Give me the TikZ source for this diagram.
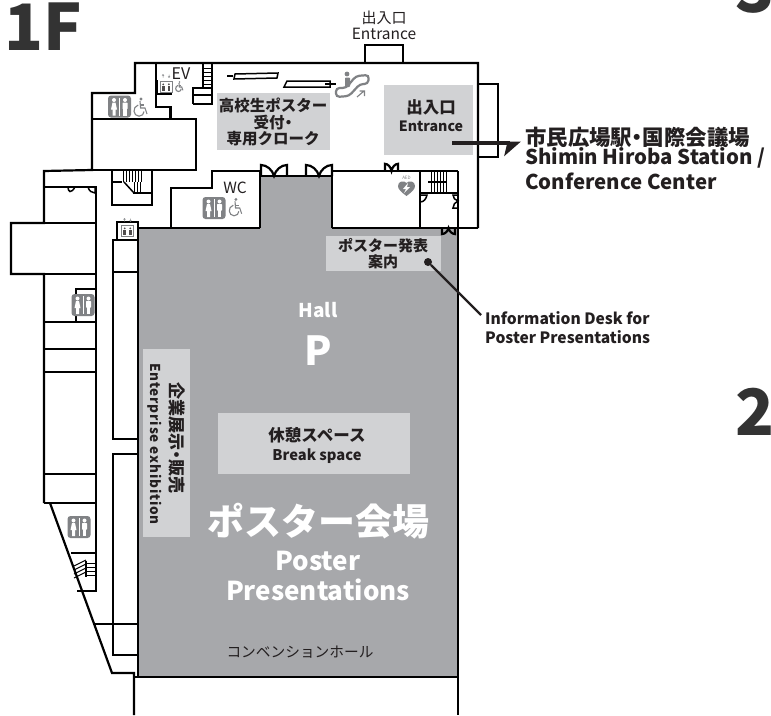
\documentclass[tikz,border=0pt]{standalone}
\usepackage{fontspec}
\usepackage{tikz}
\usetikzlibrary{
    arrows.meta,
    calc,
    positioning
}
\setmainfont{Noto Sans CJK JP}
\newfontfamily\blackfont{Noto Sans CJK JP Black}
\newcommand{\fs}[1]{\fontsize{#1}{#1}\selectfont}
\newcommand{\ndot}{\kern-.25em・\kern-.25em}
\definecolor{hallgray}{HTML}{A7A8AB}
\definecolor{labelgray}{HTML}{D1D2D4}
\definecolor{signgray}{HTML}{808285}
\definecolor{inkgray}{HTML}{231F20}
\definecolor{titlegray}{HTML}{333333}
\tikzset{
    wall/.style={line width=2.2pt},
    thinwall/.style={line width=1.5pt},
    labelbox/.style={fill=labelgray},
    maptext/.style={text=inkgray, align=center, inner sep=0pt},
    halltext/.style={text=white, align=center, inner sep=0pt, font=\bfseries},
    floortext/.style={text=titlegray, anchor=base west, inner sep=0pt, font=\blackfont\fs{64}},
    wcsign/.pic={
        \fill[signgray, rounded corners=3pt] (-11.5,-11) rectangle (11.5,11);
        \draw[white, line width=.7pt] (0,-9) -- (0,9);
        \fill[white] (-5.5,-6.5) circle (2);
        \fill[white] (-7,-4) -- (-4,-4) -- (-2.5,3) -- (-4,3) -- (-4,9) -- (-7,9) -- (-7,3) -- (-8.5,3) -- cycle;
        \fill[white] (5.5,-6.5) circle (2);
        \fill[white, rounded corners=.5pt] (3,-4) rectangle (8,2.5);
        \fill[white] (3.8,2) rectangle (7.2,9);
    },
    wheelsign/.pic={
        \fill[signgray] (1,-9) circle (1.6);
        \draw[signgray, line width=1.1pt] (0,-7) -- (.6,0) -- (5,0) -- (7,6);
        \draw[signgray, line width=1.1pt] (.5,-3) -- (4,-3);
        \draw[signgray, line width=1.1pt] (-1.8,-3) .. controls (-8,-1) and (-7,8) .. (-1,8.2) .. controls (2,8.2) and (4,6) .. (4,3.5);
    },
    liftsign/.pic={
        \draw[signgray, line width=.7pt] (-6,-5.5) rectangle (6,5.5);
        \foreach \px in {-2.8, 2.8} {
            \fill[inkgray!80] (\px,-2.7) circle (1);
            \fill[inkgray!80] (\px-1.3,-1.5) rectangle (\px+1.3,4);
        }
        \draw[signgray, line width=.5pt] (-3,-9.5) -- (-3,-12.5) (-4,-11.5) -- (-3,-12.5) -- (-2,-11.5);
        \draw[signgray, line width=.5pt] (3,-12.5) -- (3,-9.5) (2,-10.5) -- (3,-9.5) -- (4,-10.5);
    },
    doubledoor/.pic={
        \draw[wall] (0,0) -- (0,-11) .. controls (6,-11) and (11.5,-6) .. (13,0)
            .. controls (14.5,-6) and (20,-11) .. (26,-11) -- (26,0);
    }
}
\begin{document}
\begin{tikzpicture}[x=1pt, y=-1pt]
    \useasboundingbox (0, 0) rectangle (771, 715);
    \fill[white] (0, 0) rectangle (771, 715);

    % hall floor and grey label plates
    \fill[hallgray] (138, 228) -- (260, 228) -- (260, 176) -- (332, 176) -- (332, 228)
        -- (458, 228) -- (458, 677) -- (138, 677) -- cycle;
    \fill[labelbox] (217, 93) rectangle (330, 150);
    \fill[labelbox] (384, 85) rectangle (473, 155);
    \fill[labelbox] (326, 236) rectangle (441, 271);
    \fill[labelbox] (143, 349) rectangle (190, 537);
    \fill[labelbox] (218, 413) rectangle (410, 474);

    % outer walls
    \draw[wall, line join=miter]
        (478, 228) -- (478, 63) -- (135, 63) -- (135, 93) -- (92, 93) -- (92, 170)
        -- (44, 171) -- (44, 223) -- (11, 223) -- (11, 274) -- (44, 274) -- (44, 503)
        (50, 503) -- (112, 673) -- (134, 673) -- (134, 715);
    \draw[wall] (44, 503) -- (96, 503);
    \draw[wall] (134, 677) -- (458, 677) (458, 171) -- (458, 715);
    \draw[wall] (332, 228) -- (478, 228);

    % entrance porches
    \draw[wall] (365, 63) -- (365, 45) -- (403, 45) -- (403, 63);
    \draw[wall] (478, 84) -- (498, 84) -- (498, 157) -- (478, 157);

    % rooms along the north side
    \draw[wall] (92, 119) -- (196, 119) -- (196, 170) -- (92, 170);
    \draw[wall] (156, 63) -- (156, 107) -- (170.5, 107) -- (170.5, 119);
    \draw[wall] (193, 104) -- (193, 88) -- (212, 88) -- (212, 63);
    \draw[wall] (193, 104) -- (212, 104) -- (212, 88) (203, 63) -- (203, 88);
    \draw[thinwall] (193, 95) -- (212, 95);
    \foreach \ry in {68, 72, 76, 80, 84} {
        \draw[line width=1pt] (203, \ry) -- (212, \ry);
    }
    \draw[thinwall] (157, 80) -- (157, 94) -- (172, 94);

    % WC and rooms beside the hall
    \draw[wall] (171, 228) -- (171, 188) -- (212, 188) -- (212, 171) -- (260, 171) -- (260, 228);
    \draw[wall] (138, 228) -- (260, 228);
    \draw[wall] (260, 176) -- (332, 176) (332, 171) -- (332, 228);
    \draw[wall] (332, 171) -- (458, 171) (420, 171) -- (420, 228);
    \draw[wall] (420, 193) -- (458, 193);
    \draw[thinwall] (428, 182) -- (447, 182);
    \foreach \rx in {431, 434, 437, 440, 443, 446} {
        \draw[line width=1pt] (\rx, 171) -- (\rx, 193);
    }

    % stairs west of the hall
    \draw[wall] (112, 182) -- (112, 205) -- (152, 205) -- (152, 170);
    \draw[thinwall] (112, 170) -- (112, 182) -- (122, 182);
    \draw[thinwall] (133, 193) -- (152, 193);
    \foreach \rx in {123, 126, 129, 132, 135, 138, 141} {
        \draw[line width=1pt] (\rx, 171) -- (\rx, 182);
    }
    \foreach \rx in {134, 137, 140} {
        \draw[line width=1pt] (\rx, 182) -- (\rx, 193);
    }
    \draw[thinwall] (124, 182) -- (134, 193);

    % west wing
    \draw[wall] (44, 187) -- (96, 187) -- (96, 591) -- (77, 591);
    \draw[wall] (11, 223) -- (96, 223) (11, 274) -- (96, 274);
    \draw[wall] (44, 322) -- (96, 322) (44, 349) -- (96, 349) (44, 372) -- (96, 372) (44, 474) -- (96, 474);
    \draw[wall] (96, 289) -- (76, 289) -- (76, 322);
    \draw[thinwall] (71, 553) -- (96, 553);
    \foreach \ry in {563, 567, 571, 575} {
        \draw[line width=1pt] (86, \ry) -- (96, \ry);
        \draw[line width=1pt] (74, \ry+3) -- (86, \ry-3);
    }
    \draw[thinwall] (86, 561) -- (86, 577);

    % corridor cabins
    \draw[wall] (138, 240) -- (113, 240) -- (113, 439) -- (138, 439);
    \draw[wall] (113, 272) -- (138, 272);
    \draw[wall] (138, 454) -- (113, 454) -- (113, 655) -- (138, 655);
    \draw[wall] (113, 624) -- (138, 624);
    \draw[thinwall] (95, 624) -- (113, 624);
    \draw[wall] (117, 240) -- (117, 222) -- (138, 222) -- (138, 677);

    % doors
    \pic at (261, 176) {doubledoor};
    \pic at (306, 176) {doubledoor};
    \pic[xscale=.5, yscale=.65] at (385, 171) {doubledoor};
    \pic[xscale=.5, yscale=-.55] at (442, 228) {doubledoor};
    \draw[thinwall] (68, 187) .. controls (68, 192) and (71, 194) .. (75, 187);
    \draw[thinwall] (88, 187) .. controls (89, 191) and (92, 193) .. (95, 193) -- (95, 187);
    \draw[thinwall] (420, 202) .. controls (424, 202) and (426, 199) .. (427, 195) -- (420, 195);
    \draw[thinwall] (458, 195) -- (453, 195) .. controls (453, 198) and (455, 200) .. (458, 201)
        .. controls (455, 202) and (453, 205) .. (453, 208) -- (458, 208);

    % escalators and moving strips
    \draw[thinwall] (234, 79) -- (235, 74) -- (278, 73) -- (277, 78) -- cycle;
    \draw[wall] (227, 76) -- (233, 76);
    \draw[thinwall] (284, 87) -- (287, 81) -- (330, 81) -- (330, 87) -- cycle;
    \draw[wall] (325, 84) -- (336, 84);
    \draw[signgray, line width=2.2pt, rounded corners=3.5pt]
        (346, 88) -- (356, 76) -- (369, 75) -- (368, 84) -- (360, 84) -- (349, 96)
        -- (336, 97) -- (336, 88) -- cycle;
    \fill[signgray] (347, 74) circle (2.4);
    \fill[signgray, rounded corners=.8pt] (345, 77.5) rectangle (350, 87);
    \draw[signgray, line width=1.1pt] (357, 97) -- (364, 91) (359.5, 91) -- (364.5, 91) -- (364.5, 96);

    % signs
    \pic at (119.5, 106.5) {wcsign};
    \pic at (214, 208) {wcsign};
    \pic at (83, 305) {wcsign};
    \pic at (79, 527) {wcsign};
    \pic at (140, 108) {wheelsign};
    \pic[scale=.95] at (235, 208) {wheelsign};
    \pic at (166, 87) {liftsign};
    \pic[scale=.55] at (179, 87) {wheelsign};
    \pic at (127.5, 231) {liftsign};

    % AED heart
    \fill[signgray] (406.5, 196) .. controls (401, 192) and (398, 189) .. (398, 186)
        .. controls (398, 181) and (404, 180) .. (406.5, 183)
        .. controls (409, 180) and (415, 181) .. (415, 186)
        .. controls (415, 189) and (412, 192) .. (406.5, 196) -- cycle;
    \fill[white] (408, 183) -- (403, 189) -- (406, 189) -- (404, 193) -- (410, 187) -- (407, 187) -- cycle;
    \node[text=signgray, inner sep=0pt, font=\fs{4.5}] (aed) at (406.5, 178) {AED};

    % texts on the map
    \node[maptext, font=\fs{15}] (northjp) at (384, 18) {出入口};
    \node[maptext, font=\fs{15.5}] (northen) at (384, 34) {Entrance};
    \node[maptext, font=\fs{16}] (ev) at (181, 73.5) {EV};
    \node[maptext, font=\fs{15.5}] (wc) at (235, 188) {WC};
    \node[maptext, font=\bfseries\fontsize{15.5}{16.5}\selectfont, text width=113pt] (cloak) at (273, 122)
        {高校生ポスター\\受付\ndot\\専用クローク};
    \node[maptext, font=\bfseries\fs{16.5}] (gatejp) at (431, 107) {出入口};
    \node[maptext, font=\bfseries\fs{14.2}] (gateen) at (431, 126) {Entrance};
    \node[maptext, font=\bfseries\fs{15}] (deskjp) at (383, 246) {ポスター発表};
    \node[maptext, font=\bfseries\fs{15}] (deskjp2) at (383, 262) {案内};
    \node[maptext, font=\bfseries\fs{16.5}] (breakjp) at (317, 435) {休憩スペース};
    \node[maptext, font=\bfseries\fs{14.7}] (breaken) at (317, 456) {Break space};
    \node[maptext, font=\bfseries\fs{17}, rotate=-90] (shopjp) at (177, 438) {企業展示\ndot 販売};
    \node[maptext, font=\bfseries\fs{13.6}, rotate=-90] (shopen) at (155, 444)
        {\addfontfeatures{LetterSpace=6}Enterprise exhibition};
    \node[halltext, font=\bfseries\fs{19}] (hall) at (318, 310) {Hall};
    \node[halltext, font=\bfseries\fs{40}] (hallp) at (318, 351) {P};
    \node[halltext, font=\bfseries\fs{37}] (posterjp) at (318, 521) {ポスター会場};
    \node[halltext, font=\bfseries\fs{26}] (posteren) at (318, 561) {Poster};
    \node[halltext, font=\bfseries\fs{26}] (posteren2) at (318, 590) {Presentations};
    \node[maptext, font=\fs{14.7}] (conv) at (300, 652) {コンベンションホール};

    % callouts
    \node[maptext, anchor=west, font=\bfseries\fs{21.4}] (stationjp) at (525, 137) {市民広場駅\ndot 国際会議場};
    \node[maptext, anchor=west, font=\bfseries\fs{20.4}] (stationen) at (525, 158) {Shimin Hiroba Station /};
    \node[maptext, anchor=west, font=\bfseries\fs{20.4}] (stationen2) at (525, 181) {Conference Center};
    \node[maptext, anchor=west, font=\bfseries\fs{15.6}] (deskena) at (485, 318) {Information Desk for};
    \node[maptext, anchor=west, font=\bfseries\fs{15.6}] (desken) at (485, 337) {Poster Presentations};
    \coordinate (gate) at (452, 143);
    \coordinate (gatetip) at (521, 143);
    \coordinate (deskend) at (481, 315);
    \node[circle, fill=inkgray, inner sep=0pt, minimum size=8pt] (deskdot) at (428, 262) {};
    \draw[inkgray, line width=4.6pt, -{Stealth[harpoon, swap, length=15pt, width=26pt, inset=3pt]}] (gate) -- (gatetip);
    \draw[inkgray, line width=2.4pt] (deskdot) -- (deskend);

    % floor numbers
    \node[floortext] (floorone) at (4.5, 50) {1F};
    \node[floortext] (floorthree) at (735, 12) {3};
    \node[floortext] (floortwo) at (735, 435) {2};
\end{tikzpicture}
\end{document}
